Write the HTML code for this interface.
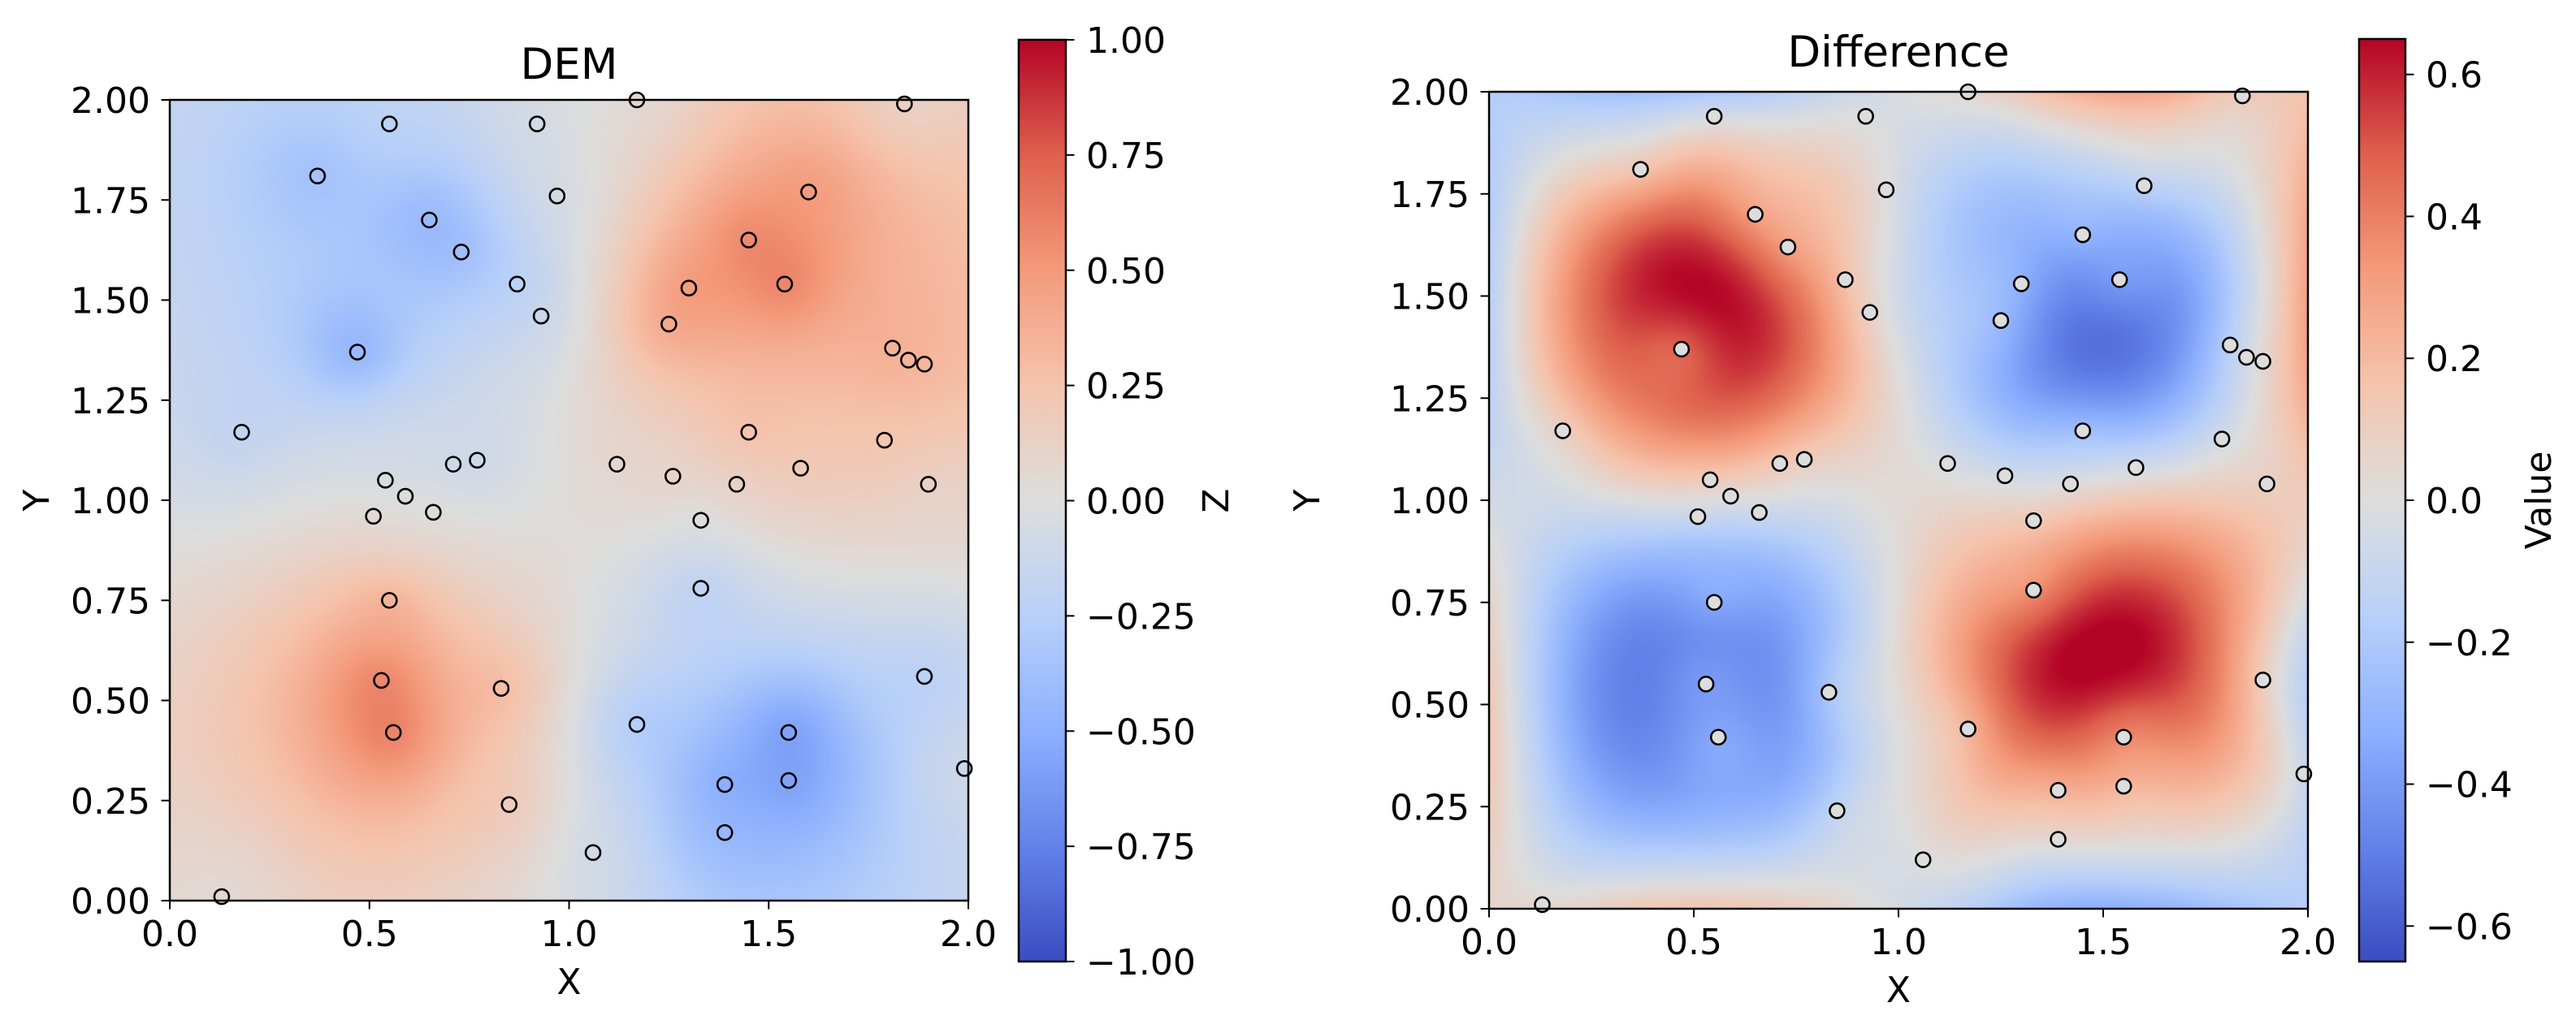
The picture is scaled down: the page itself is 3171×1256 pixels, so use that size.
<!DOCTYPE html>
<html><head><meta charset="utf-8">
<style>
html,body{margin:0;padding:0;background:#fff;}
#wrap{position:relative;width:3171px;height:1256px;overflow:hidden;background:#fff;}
canvas{position:absolute;}
svg{position:absolute;left:0;top:0;}
text{font-family:"DejaVu Sans","Liberation Sans",sans-serif;fill:#000;}
</style></head>
<body>
<div id="wrap">
<canvas id="c1" style="left:209px;top:123px;width:983px;height:986px"></canvas>
<canvas id="c2" style="left:1833px;top:113px;width:1008px;height:1006px"></canvas>
<svg id="ov" width="3171" height="1256"></svg>
</div>
<script>
// sample point coordinates (data units)
const sampleX = [0.13,0.18,0.37,0.47,0.55,0.65,0.73,0.87,0.92,0.93,0.97,1.17,1.84,1.60,1.45,1.54,1.30,1.25,1.81,1.85,1.89,1.45,1.79,1.58,1.90,1.12,1.26,1.42,1.33,0.71,0.77,0.54,0.59,0.51,0.66,0.55,1.33,0.53,0.83,0.56,1.17,1.55,1.89,1.99,1.39,1.55,0.85,1.39,1.06];
const sampleY = [0.01,1.17,1.81,1.37,1.94,1.70,1.62,1.54,1.94,1.46,1.76,2.00,1.99,1.77,1.65,1.54,1.53,1.44,1.38,1.35,1.34,1.17,1.15,1.08,1.04,1.09,1.06,1.04,0.95,1.09,1.10,1.05,1.01,0.96,0.97,0.75,0.78,0.55,0.53,0.42,0.44,0.42,0.56,0.33,0.29,0.30,0.24,0.17,0.12];
const xTicks = [0.0,0.5,1.0,1.5,2.0];
const xTickLabels = ["0.0","0.5","1.0","1.5","2.0"];
const yTicks = [0,0.25,0.5,0.75,1.0,1.25,1.5,1.75,2.0];
const yTickLabels = ["0.00","0.25","0.50","0.75","1.00","1.25","1.50","1.75","2.00"];
const demCbTicks = [-1,-0.75,-0.5,-0.25,0,0.25,0.5,0.75,1];
const demCbLabels = ["\u22121.00","\u22120.75","\u22120.50","\u22120.25","0.00","0.25","0.50","0.75","1.00"];
const diffCbTicks = [-0.6,-0.4,-0.2,0,0.2,0.4,0.6];
const diffCbLabels = ["\u22120.6","\u22120.4","\u22120.2","0.0","0.2","0.4","0.6"];
const demRange = [-1,1];
const diffRange = [-0.65,0.65];

function trueF(x,y){return Math.sin(Math.PI*x)*Math.sin(Math.PI*y);}
const sampleZ = sampleX.map((x,i)=>trueF(x,sampleY[i]));
const EPS=0.014;
function idw(x,y){
  let num=0,den=0;
  for(let i=0;i<sampleX.length;i++){
    const d2=(x-sampleX[i])**2+(y-sampleY[i])**2;
    const w=1/(d2+EPS); num+=w*sampleZ[i]; den+=w;
  }
  return num/den;
}
const CW=[[0,59,76,192],[0.125,98,130,234],[0.25,141,176,254],[0.375,184,208,249],[0.5,221,221,221],[0.625,245,196,173],[0.75,244,154,123],[0.875,222,96,77],[1,180,4,38]];
function cmap(t){
  t=Math.max(0,Math.min(1,t));
  for(let i=1;i<CW.length;i++){
    if(t<=CW[i][0]){const a=CW[i-1],b=CW[i];const f=(t-a[0])/(b[0]-a[0]);
      return [0,1,2].map(k=>Math.round(a[k+1]+(b[k+1]-a[k+1])*f));}
  }
  return [180,4,38];
}
function rgb(c){return 'rgb('+c.join(',')+')';}

function drawField(id,fn,range){
  const cv=document.getElementById(id);const N=240;
  cv.width=N;cv.height=N;const ctx=cv.getContext('2d');
  const img=ctx.createImageData(N,N);
  for(let j=0;j<N;j++)for(let i=0;i<N;i++){
    const x=(i+0.5)/N*2,y=2-(j+0.5)/N*2;
    const v=fn(x,y);const c=cmap((v-range[0])/(range[1]-range[0]));
    const p=(j*N+i)*4;img.data[p]=c[0];img.data[p+1]=c[1];img.data[p+2]=c[2];img.data[p+3]=255;
  }
  ctx.putImageData(img,0,0);
}
drawField('c1',idw,demRange);
drawField('c2',(x,y)=>idw(x,y)-trueF(x,y),diffRange);

const NS='http://www.w3.org/2000/svg';
const ov=document.getElementById('ov');
function mk(tag,attrs,parent){const e=document.createElementNS(NS,tag);for(const k in attrs)e.setAttribute(k,attrs[k]);(parent||ov).appendChild(e);return e;}

const defs=mk('defs',{});
function grad(id){
  const g=mk('linearGradient',{id:id,x1:0,y1:1,x2:0,y2:0},defs);
  for(let i=0;i<=16;i++){const t=i/16;mk('stop',{offset:t,'stop-color':rgb(cmap(t))},g);}
}
grad('cwg');

function panel(P){
  const sx=v=>P.L+v/2*P.W, sy=v=>P.T+P.H-v/2*P.H;
  const g=mk('g',{});
  
  
  for(let i=0;i<sampleX.length;i++){
    const v=P.val(i);
    const c=mk('circle',{cx:sx(sampleX[i]),cy:sy(sampleY[i]),r:9,fill:rgb(cmap((v-P.range[0])/(P.range[1]-P.range[0]))),stroke:'#000','stroke-width':2.6},g);
    
    
  }
  mk('rect',{x:P.L,y:P.T,width:P.W,height:P.H,fill:'none',stroke:'#000','stroke-width':2.5},g);
  xTicks.forEach((v,i)=>{
    mk('line',{x1:sx(v),x2:sx(v),y1:P.T+P.H,y2:P.T+P.H+10.5,stroke:'#000','stroke-width':2},g);
    const t=mk('text',{x:sx(v),y:P.T+P.H+56,'font-size':44,'text-anchor':'middle'},g);t.textContent=xTickLabels[i];
    
    
  });
  yTicks.forEach((v,i)=>{
    mk('line',{x1:P.L-10.5,x2:P.L,y1:sy(v),y2:sy(v),stroke:'#000','stroke-width':2},g);
    const t=mk('text',{x:P.L-24,y:sy(v)+16,'font-size':44,'text-anchor':'end'},g);t.textContent=yTickLabels[i];
    
    
  });
  const ti=mk('text',{x:P.L+P.W/2,y:P.titleY,'font-size':53,'text-anchor':'middle'},g);ti.textContent=P.title;
  
  
  const xl=mk('text',{x:P.L+P.W/2,y:P.T+P.H+115,'font-size':44,'text-anchor':'middle'},g);xl.textContent='X';
  
  
  const yl=mk('text',{x:0,y:0,'font-size':44,'text-anchor':'middle',transform:'translate('+(P.ylx)+','+(P.T+P.H/2)+') rotate(-90)'},g);yl.textContent='Y';
  
  
  const cb=mk('g',{});
  
  
  mk('rect',{x:P.cbL,y:P.cbT,width:P.cbW,height:P.cbH,fill:'url(#cwg)',stroke:'#000','stroke-width':2.5},cb);
  const cy=v=>P.cbT+P.cbH-(v-P.range[0])/(P.range[1]-P.range[0])*P.cbH;
  P.cbTicks.forEach((v,i)=>{
    mk('line',{x1:P.cbL+P.cbW,x2:P.cbL+P.cbW+10.5,y1:cy(v),y2:cy(v),stroke:'#000','stroke-width':2},cb);
    const t=mk('text',{x:P.cbL+P.cbW+25,y:cy(v)+16,'font-size':44},cb);t.textContent=P.cbLabels[i];
    
    
  });
  const cl=mk('text',{x:0,y:0,'font-size':44,'text-anchor':'middle',transform:'translate('+P.cblx+','+(P.cbT+P.cbH/2)+') rotate(-90)'},cb);cl.textContent=P.cbTitle;
  
  
}
panel({name:'dem',L:209,T:123,W:983,H:986,val:i=>idw(sampleX[i],sampleY[i]),range:demRange,title:'DEM',titleY:97,ylx:60,
  cbL:1254,cbT:49,cbW:58,cbH:1135,cbTicks:demCbTicks,cbLabels:demCbLabels,cbTitle:'Z',cblx:1512});
panel({name:'difference',L:1833,T:113,W:1008,H:1006,val:i=>sampleZ[i]-trueF(sampleX[i],sampleY[i]),range:diffRange,title:'Difference',titleY:82,ylx:1624,
  cbL:2904,cbT:48,cbW:57,cbH:1136,cbTicks:diffCbTicks,cbLabels:diffCbLabels,cbTitle:'Value',cblx:3140});
</script>
</body></html>
